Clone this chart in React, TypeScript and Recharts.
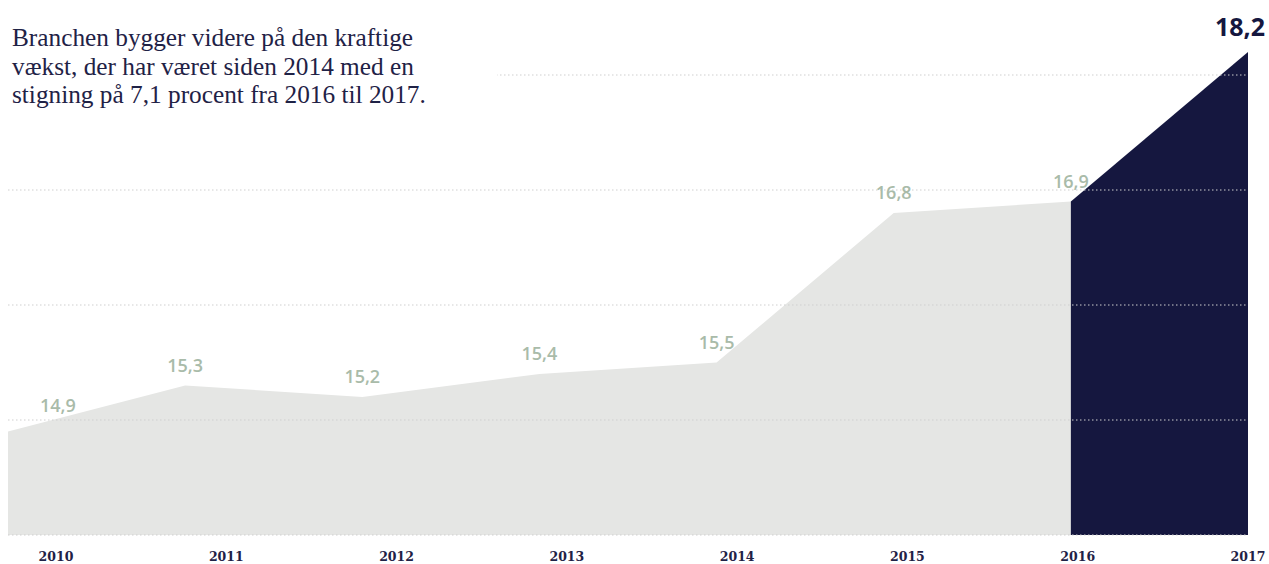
import { ComposedChart, Area, XAxis, YAxis, CartesianGrid, LabelList } from "recharts";

const years = ["2010", "2011", "2012", "2013", "2014", "2015", "2016", "2017"];
const history = [14.9, 15.3, 15.2, 15.4, 15.5, 16.8, 16.9, null];
const latest = [null, null, null, null, null, null, 16.9, 18.2];
const gridTicks = [14, 15, 16, 17, 18];

const data = years.map((year, i) => ({ year, history: history[i], latest: latest[i] }));

const fmt = (v: number) => String(v).replace(".", ",");

const GREY = "#e5e6e4";
const NAVY = "#15173f";

function HistoryLabel(props: any) {
  const { x, y, value, index } = props;
  if (value == null) return null;
  const first = index === 0;
  return (
    <text
      x={first ? x + 32 : x}
      y={first ? y - 20 : y - 14}
      textAnchor={first ? "start" : "middle"}
      fill="#a9bba9"
      fontFamily="'Open Sans', sans-serif"
      fontWeight={600}
      fontSize={18}
    >
      {fmt(value)}
    </text>
  );
}

function LatestLabel(props: any) {
  const { x, y, value, index } = props;
  if (index !== years.length - 1 || value == null) return null;
  return (
    <text x={x + 17} y={y - 16} textAnchor="end" fill={NAVY} fontFamily="'Open Sans', sans-serif" fontWeight={700} fontSize={25}>
      {fmt(value)}
    </text>
  );
}

function YearTick(props: any) {
  const { x, y, payload } = props;
  return (
    <text
      x={x}
      y={y}
      dy={-12}
      textAnchor="middle"
      fill="#1f2246"
      fontFamily="'DejaVu Serif', serif"
      fontWeight={700}
      fontSize={12.5}
    >
      {payload.value}
    </text>
  );
}

export default function App() {
  return (
    <div style={{ position: "absolute", left: 0, top: 0, width: 1269, height: 564, background: "#fff" }}>
      <ComposedChart width={1269} height={564} data={data} margin={{ top: 52, right: 21, bottom: 0, left: 8 }}>
        <XAxis dataKey="year" hide padding={{ left: 0, right: 0 }} />
        <XAxis
          xAxisId="labels"
          dataKey="year"
          height={29}
          axisLine={false}
          tickLine={false}
          interval={0}
          padding={{ left: 48, right: 0 }}
          tick={<YearTick />}
        />
        <YAxis hide domain={[14, 18.2]} ticks={gridTicks} />
        <Area
          dataKey="history"
          type="linear"
          stroke="none"
          fill={GREY}
          fillOpacity={1}
          baseValue={14}
          isAnimationActive={false}
          dot={false}
          activeDot={false}
        >
          <LabelList dataKey="history" content={<HistoryLabel />} />
        </Area>
        <Area
          dataKey="latest"
          type="linear"
          stroke="none"
          fill={NAVY}
          fillOpacity={1}
          baseValue={14}
          isAnimationActive={false}
          dot={false}
          activeDot={false}
        >
          <LabelList dataKey="latest" content={<LatestLabel />} />
        </Area>
        <CartesianGrid
          vertical={false}
          horizontalValues={gridTicks}
          stroke="#cfcfcf"
          strokeDasharray="1.5 2.5"
          zIndex={1000}
        />
      </ComposedChart>
      <div
        style={{
          position: "absolute",
          left: 0,
          top: 0,
          width: 497,
          height: 125,
          background: "#fff",
          paddingLeft: 12,
          paddingTop: 23,
          boxSizing: "border-box",
          fontFamily: "'Liberation Serif', serif",
          fontSize: 25.3,
          lineHeight: "28.5px",
          color: "#1f2246",
        }}
      >
        Branchen bygger videre på den kraftige
        <br />
        vækst, der har været siden 2014 med en
        <br />
        stigning på 7,1 procent fra 2016 til 2017.
      </div>
    </div>
  );
}
